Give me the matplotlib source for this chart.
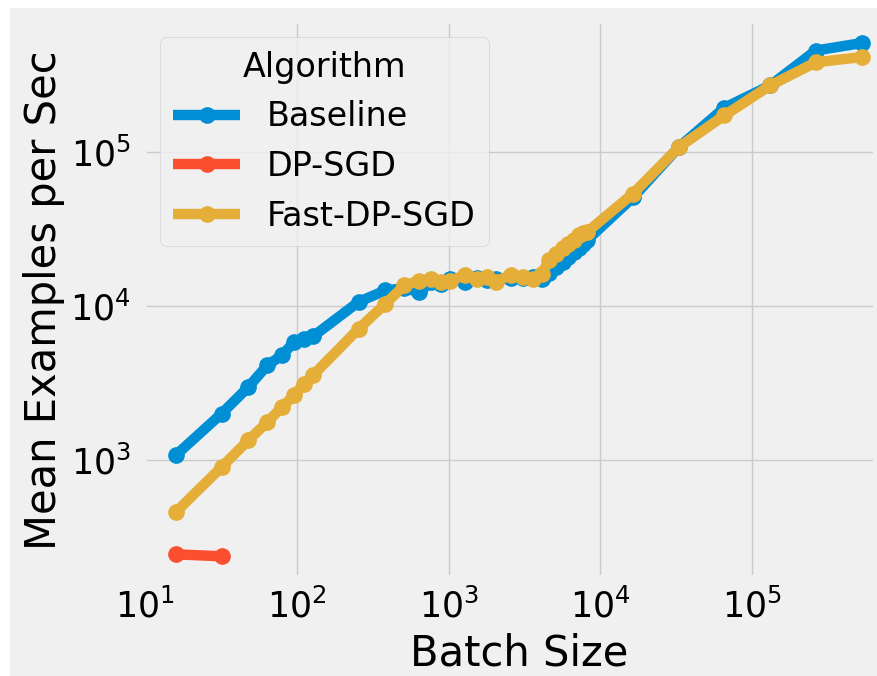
import matplotlib
matplotlib.use("Agg")
import matplotlib.pyplot as plt
from matplotlib.patches import Rectangle

# batch sizes
batch_base = [16, 32, 48, 64, 80, 96, 112, 128, 256, 384, 512, 640, 768, 896,
              1024, 1280, 1536, 1792, 2048, 2560, 3072, 3584, 4096, 4608,
              5120, 5632, 6144, 6656, 7168, 7680, 8192, 16384, 32768, 65536,
              131072, 262144, 524288]
batch_dp = [16, 32]
batch_fast = batch_base

# mean examples per sec
baseline = [1080, 2010, 2990, 4140, 4810, 5860, 6170, 6380, 10700, 12700,
            13100, 12400, 14300, 14000, 15000, 14500, 15300, 14800, 15000,
            15200, 15300, 15500, 15000, 16500, 18000, 19500, 21000, 22500,
            24000, 25500, 27000, 51000, 108000, 195000, 272000, 459000, 513000]
dp_sgd = [245, 238]
fast_dp_sgd = [461, 904, 1350, 1770, 2220, 2640, 3150, 3570, 7160, 10400,
               13700, 14700, 15000, 14500, 14600, 16000, 15000, 15500, 14500,
               16000, 15500, 15000, 16300, 20000, 22000, 24000, 25500, 27000,
               29000, 29800, 30500, 54000, 108000, 174000, 272000, 385000, 416000]

plt.style.use('fivethirtyeight')

fig = plt.figure(figsize=(8.78, 6.76), dpi=100, facecolor='#f0f0f0', edgecolor='#f0f0f0')
# thin white strips at the top and left edge
fig.patches.append(Rectangle((0, 1 - 8 / 676), 1, 8 / 676, transform=fig.transFigure,
                             facecolor='white', edgecolor='none'))
fig.patches.append(Rectangle((0, 0), 10 / 878, 1, transform=fig.transFigure,
                             facecolor='white', edgecolor='none'))
ax = fig.add_axes([0.165, 0.146, 0.832, 0.821])

lw = 7.5
ms = 11
ax.plot(batch_base, baseline, marker='o', lw=lw, ms=ms, color='#008fd5', label='Baseline')
ax.plot(batch_dp, dp_sgd, marker='o', lw=lw, ms=ms, color='#fc4f30', label='DP-SGD')
ax.plot(batch_fast, fast_dp_sgd, marker='o', lw=lw, ms=ms, color='#e5ae38', label='Fast-DP-SGD')

ax.set_xscale('log')
ax.set_yscale('log')
ax.set_xlim(10, 10 ** 5.81)
ax.set_ylim(10 ** 2.24, 10 ** 5.845)
ax.minorticks_off()
ax.tick_params(labelsize=25)
ax.tick_params(axis='y', pad=10)
ax.tick_params(axis='x', pad=8)

ax.set_xlabel('Batch Size', fontsize=30, labelpad=2)
ax.xaxis.set_label_coords(0.513, -0.1)
ax.xaxis.get_label().set_va('top')
ax.set_ylabel('Mean Examples per Sec', fontsize=30, labelpad=4)

leg = ax.legend(title='Algorithm', loc='upper left', fontsize=24, title_fontsize=24,
                borderaxespad=0.45, handlelength=2.0)

fig.savefig('out.png', dpi=100, facecolor=fig.get_facecolor(), edgecolor=fig.get_edgecolor())
